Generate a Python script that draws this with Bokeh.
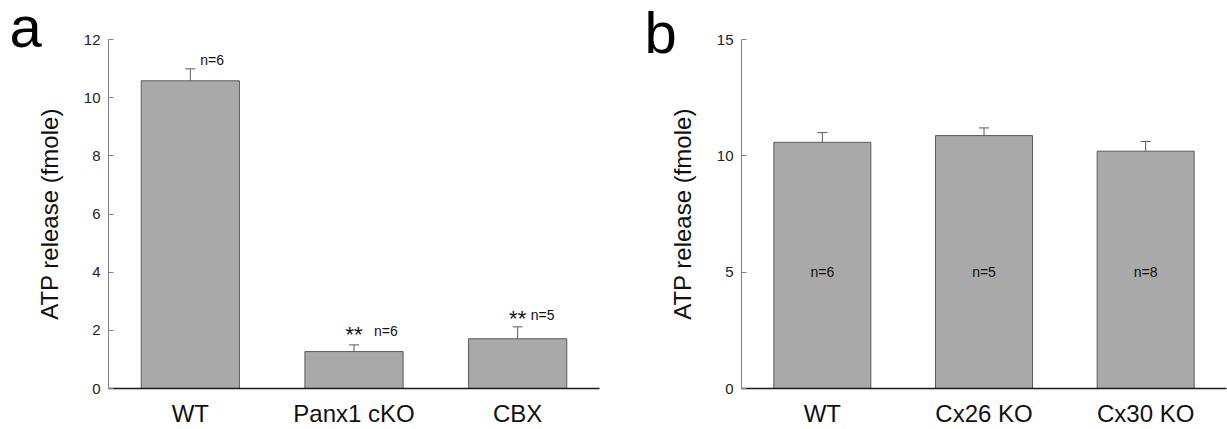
from bokeh.plotting import figure
from bokeh.layouts import row
from bokeh.models import ColumnDataSource, FixedTicker, Whisker, TeeHead, FactorRange, Title
from bokeh.core.properties import value
from bokeh.embed import file_html
from bokeh.resources import INLINE

# ---- data ----
cats_a = ["WT", "Panx1 cKO", "CBX"]
mean_a = [10.58, 1.27, 1.71]
sem_a = [0.41, 0.23, 0.41]
sig_a = ["", "**", "**"]
n_a = ["n=6", "n=6", "n=5"]
yticks_a = [0, 2, 4, 6, 8, 10, 12]

cats_b = ["WT", "Cx26 KO", "Cx30 KO"]
mean_b = [10.58, 10.87, 10.20]
sem_b = [0.42, 0.33, 0.42]
n_b = ["n=6", "n=5", "n=8"]
n_b_y = [5, 5, 5]
yticks_b = [0, 5, 10, 15]

# ---- style ----
FONT = "Liberation Sans"
BAR_FILL = "#a9a9a9"
BAR_LINE = "#5a5a5a"
# text offsets (screen px) for panel a annotations
n_dx_a = [10, 20, 13]
n_dy_a = [-9, -14, -12]
sig_dy_a = [-10, -10, -8]


def make_fig(cats, ymax, yticks, width, mb_left, mb_right):
    p = figure(x_range=FactorRange(*cats, range_padding=0), y_range=(0, ymax),
               width=width, height=429, output_backend="svg", toolbar_location=None,
               min_border_left=mb_left, min_border_right=mb_right,
               min_border_top=39, min_border_bottom=39)
    p.outline_line_color = None
    p.grid.visible = False
    p.background_fill_color = "white"
    p.border_fill_color = "white"

    ya = p.yaxis[0]
    ya.ticker = FixedTicker(ticks=yticks)
    ya.axis_label = "ATP release (fmole)"
    ya.axis_label_text_font = FONT
    ya.axis_label_text_font_size = "24px"
    ya.axis_label_text_font_style = "normal"
    ya.axis_label_text_color = "#111111"
    ya.axis_label_standoff = 18
    ya.major_label_text_font = FONT
    ya.major_label_text_font_size = "15px"
    ya.major_label_text_color = "#222222"
    ya.major_label_standoff = 8
    ya.axis_line_color = "#808080"
    ya.axis_line_width = 1
    ya.major_tick_line_color = "#808080"
    ya.major_tick_in = 5
    ya.major_tick_out = 0
    ya.minor_tick_line_color = None

    xa = p.xaxis[0]
    xa.major_label_text_font = FONT
    xa.major_label_text_font_size = "24px"
    xa.major_label_text_color = "#111111"
    xa.major_label_standoff = 11
    xa.axis_line_color = "#1a1a1a"
    xa.axis_line_width = 1.5
    xa.major_tick_line_color = None
    xa.major_tick_in = 0
    xa.major_tick_out = 0
    xa.minor_tick_line_color = None
    return p


def panel_letter(p, letter, offset, standoff):
    p.add_layout(Title(text=letter, text_font=FONT, text_font_size="58px",
                       text_font_style="normal", text_color="#000000",
                       align="left", offset=offset, standoff=standoff), "above")


# ---------- panel a ----------
src_a = ColumnDataSource(dict(cat=cats_a, top=mean_a,
                              upper=[m + s for m, s in zip(mean_a, sem_a)],
                              sig=sig_a, n=n_a, ndx=n_dx_a, ndy=n_dy_a, sdy=sig_dy_a))
pa = make_fig(cats_a, 12, yticks_a, 616, 108, 17)
pa.vbar(x="cat", top="top", width=0.6, source=src_a,
        fill_color=BAR_FILL, line_color=BAR_LINE, line_width=1)
pa.add_layout(Whisker(base="cat", lower="top", upper="upper", source=src_a,
                      dimension="height", line_color=BAR_LINE, line_width=1,
                      upper_head=TeeHead(size=10, line_color=BAR_LINE, line_width=1),
                      lower_head=None))
pa.text(x="cat", y="upper", text="sig", source=src_a, x_offset=0, y_offset="sdy",
        text_align="center", text_baseline="middle", text_font=value(FONT),
        text_font_size="22px", text_color="#111111")
pa.text(x="cat", y="upper", text="n", source=src_a, x_offset="ndx", y_offset="ndy",
        text_align="left", text_baseline="middle", text_font=value(FONT),
        text_font_size="14px", text_color="#111111")
panel_letter(pa, "a", -99, -38)

# ---------- panel b ----------
src_b = ColumnDataSource(dict(cat=cats_b, top=mean_b,
                              upper=[m + s for m, s in zip(mean_b, sem_b)],
                              n=n_b, ny=n_b_y))
pb = make_fig(cats_b, 15, yticks_b, 611, 125, 1)
pb.vbar(x="cat", top="top", width=0.6, source=src_b,
        fill_color=BAR_FILL, line_color=BAR_LINE, line_width=1)
pb.add_layout(Whisker(base="cat", lower="top", upper="upper", source=src_b,
                      dimension="height", line_color=BAR_LINE, line_width=1,
                      upper_head=TeeHead(size=10, line_color=BAR_LINE, line_width=1),
                      lower_head=None))
pb.text(x="cat", y="ny", text="n", source=src_b,
        text_align="center", text_baseline="middle", text_font=value(FONT),
        text_font_size="14px", text_color="#111111")
panel_letter(pb, "b", -97, -50)

layout = row(pa, pb)
open("out.html", "w").write(file_html(layout, INLINE))
